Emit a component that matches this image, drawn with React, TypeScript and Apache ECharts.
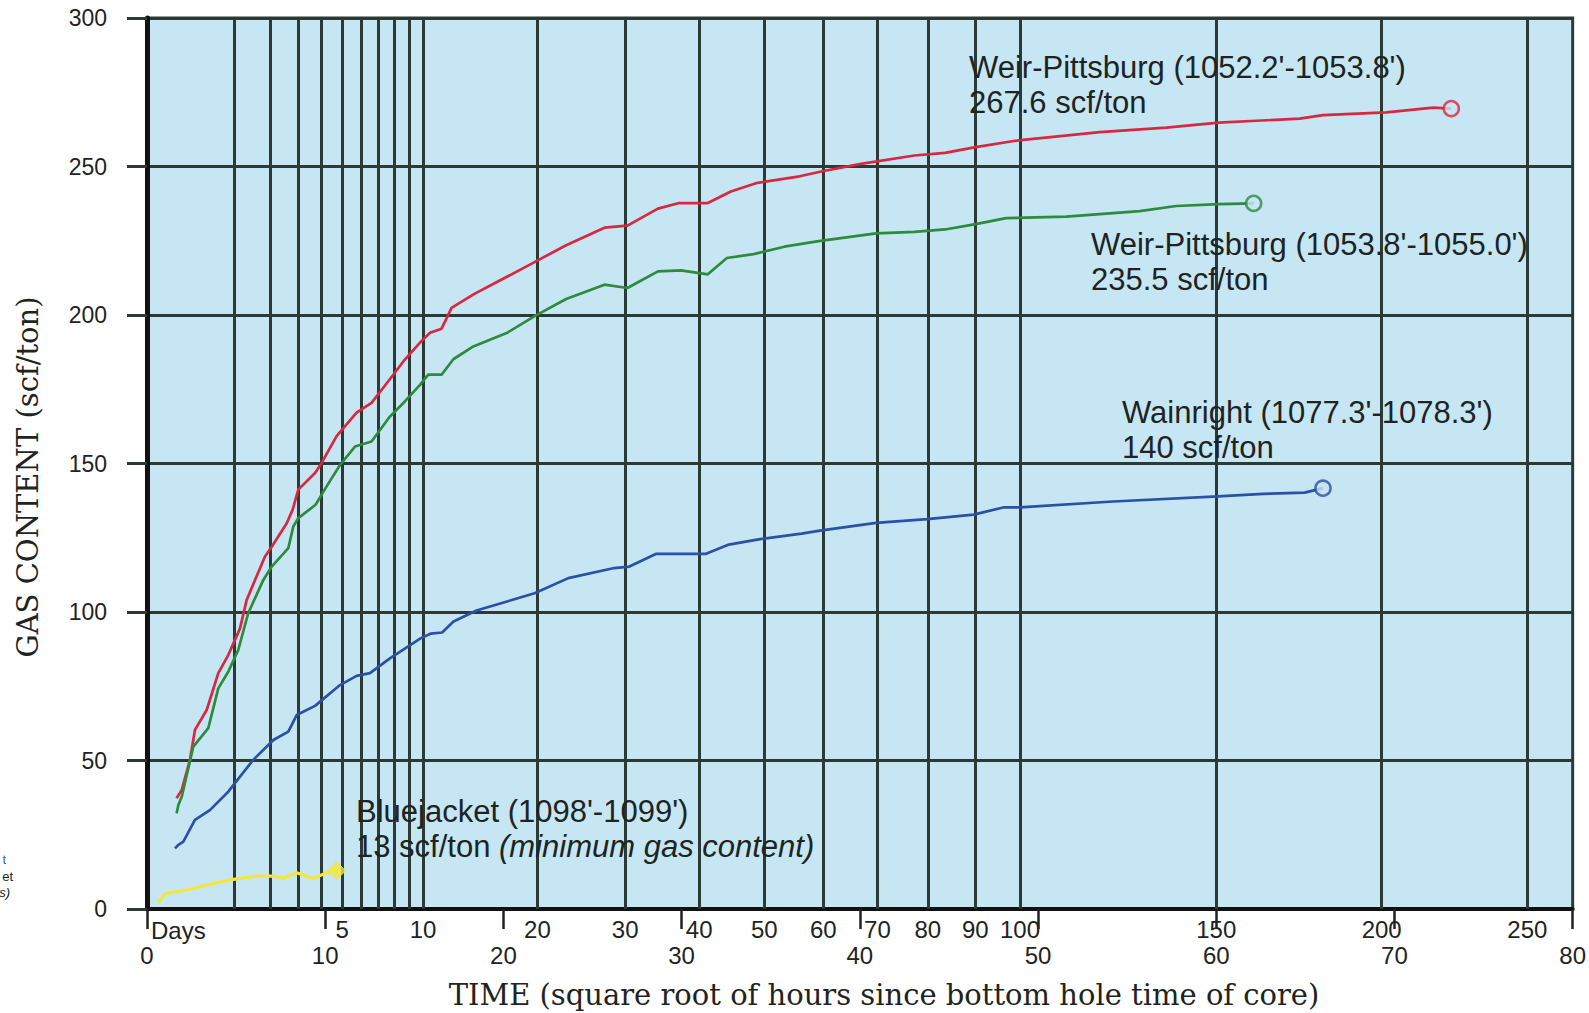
import React, { useEffect, useRef } from "react";
import * as echarts from "echarts";

// ---------- data ----------
// x = square root of hours since bottom hole time of core, y = gas content (scf/ton)
const weir1Data: number[][] = [
  [1.66, 37.3], [1.95, 40.1], [2.41, 50.2], [2.69, 60.3], [3.35, 67], [4.0, 79.4], [4.56, 85.5],
  [5.22, 94.5], [5.59, 104], [6.62, 118.7], [7.0, 122], [7.84, 129.9], [8.17, 134.4], [8.49, 141.2],
  [9.43, 146.8], [9.8, 150.2], [10.64, 159.2], [11.76, 167.1], [12.6, 170.4], [13.54, 177.7],
  [14.47, 185], [15.32, 190.7], [15.88, 194], [16.53, 195.4], [17.09, 202.4], [18.37, 207.1],
  [21.59, 217.3], [23.52, 223.5], [25.67, 229.4], [26.96, 230.1], [28.67, 235.8], [29.86, 237.7],
  [31.47, 237.7], [32.76, 241.6], [34.26, 244.5], [36.62, 246.7], [37.9, 248.4], [40.06, 250.9],
  [43.06, 253.7], [44.78, 254.6], [46.5, 256.5], [48.64, 258.6], [53.46, 261.6], [57.2, 263.1],
  [60.14, 264.8], [62.25, 265.4], [64.68, 266.1], [65.99, 267.3], [69.55, 268.2], [72.17, 269.8],
  [73.19, 269.5],
];

const weir2Data: number[][] = [
  [1.66, 32.2], [1.76, 35], [1.95, 37.8], [2.6, 54.7], [3.44, 60.9], [4.0, 74.3], [4.56, 79.9],
  [5.12, 87.2], [5.68, 99.6], [6.53, 110.8], [7.0, 115.3], [7.93, 121.5], [8.21, 128.8], [8.49, 131.6],
  [9.46, 136.1], [10.08, 142.3], [10.83, 149.5], [11.67, 155.7], [12.6, 157.4], [13.63, 165.8],
  [14.47, 170.9], [15.32, 176.5], [15.78, 179.9], [16.53, 179.9], [17.19, 185.1], [18.31, 189.4],
  [20.18, 193.9], [21.8, 199.8], [23.52, 205.4], [25.67, 210.2], [26.96, 209.1], [28.67, 214.7],
  [29.96, 215], [31.47, 213.7], [32.54, 219.2], [34.04, 220.5], [35.76, 223], [37.69, 224.9],
  [40.91, 227.5], [43.06, 228], [44.78, 228.8], [46.5, 230.6], [48.21, 232.6], [51.59, 233.1],
  [55.7, 235], [57.76, 236.7], [60.14, 237.3], [62.1, 237.6],
];

const wainrightData: number[][] = [
  [1.57, 20.4], [1.76, 21.6], [2.04, 22.7], [2.69, 30], [3.53, 33.3], [4.56, 39.5], [5.96, 50.2],
  [7.09, 56.9], [7.93, 59.7], [8.4, 65.3], [9.43, 68.4], [10.83, 75.4], [11.76, 78.5], [12.51, 79.4],
  [13.63, 84.4], [15.37, 91.2], [15.91, 92.7], [16.56, 93.1], [17.2, 96.8], [18.49, 100.5],
  [21.75, 106.3], [23.64, 111.4], [26.22, 114.8], [27.07, 115.3], [28.58, 119.6], [31.37, 119.6],
  [32.65, 122.7], [34.48, 124.6], [36.73, 126.4], [37.76, 127.4], [40.92, 130], [43.78, 131.3],
  [46.39, 132.8], [48.04, 135.2], [48.97, 135.2], [54.21, 137.2], [60.1, 138.9], [62.63, 139.8],
  [64.96, 140.2], [65.99, 141.7],
];

const bluejacketData: number[][] = [
  [0.63, 2.1], [0.91, 4.4], [1.1, 5.3], [2.22, 6.4], [3.35, 8.1], [4.66, 9.8], [6.15, 11.1],
  [7.09, 11.1], [7.65, 10.3], [8.4, 12.2], [9.33, 10.3], [9.99, 12], [10.64, 12.9],
];

// vertical grid lines drawn at elapsed days (x = sqrt(24 * days))
const dayGridLines = [1, 2, 3, 4, 5, 6, 7, 8, 9, 10, 20, 30, 40, 50, 60, 70, 80, 90, 100, 150, 200, 250];
const dayLabels = [5, 10, 20, 30, 40, 50, 60, 70, 80, 90, 100, 150, 200, 250];

const xMin = 0, xMax = 80, xStep = 10;
const yMin = 0, yMax = 300, yStep = 50;

const seriesNames = ["Weir-Pittsburg (1052.2'-1053.8')", "Weir-Pittsburg (1053.8'-1055.0')", "Wainright (1077.3'-1078.3')", "Bluejacket (1098'-1099')"];
const seriesTotals = ["267.6 scf/ton", "235.5 scf/ton", "140 scf/ton", "13 scf/ton"];
const bluejacketNote = "(minimum gas content)";

// ---------- styles ----------
const BG = "#c6e6f4";
const GRID = "#2c3a36";
const RED = "#d8283f";
const GREEN = "#2e8a3c";
const BLUE = "#2b50a6";
const YELLOW = "#f3e839";
const TXT = "#1d2422";
const SANS = "'Liberation Sans', Arial, Helvetica, sans-serif";
const SERIF = "'DejaVu Serif', 'Liberation Serif', serif";
const NOTE_SIZE = 31;
const NOTE_LH = 35;

const toX = (d: number) => Math.sqrt(24 * d);

export default function App() {
  const ref = useRef<HTMLDivElement>(null);

  useEffect(() => {
    if (!ref.current) return;
    const chart = echarts.init(ref.current, undefined, { renderer: "svg" });

    const lineSeries = (name: string, data: number[][], color: string, width = 2.7) => ({
      name,
      type: "line",
      xAxisIndex: 0,
      yAxisIndex: 0,
      data,
      showSymbol: false,
      symbol: "none",
      smooth: false,
      z: 4,
      lineStyle: { color, width },
    });

    const endMarker = (data: number[][], color: string, symbol: string, size: number, filled: boolean) => ({
      type: "scatter",
      xAxisIndex: 0,
      yAxisIndex: 0,
      data: [data[data.length - 1]],
      symbol,
      symbolSize: size,
      z: 6,
      itemStyle: filled
        ? { color, borderColor: color, borderWidth: 1 }
        : { color: BG, borderColor: color, borderWidth: 2.6 },
    });

    const annotate = (x: number, y: number, text: string) => ({
      type: "text",
      x,
      y,
      z: 10,
      style: {
        text,
        fill: TXT,
        fontFamily: SANS,
        fontSize: NOTE_SIZE,
        lineHeight: NOTE_LH,
        verticalAlign: "middle",
      },
    });

    chart.setOption({
      animation: false,
      backgroundColor: "#ffffff",
      grid: {
        left: 147,
        top: 18,
        width: 1426,
        height: 891,
        show: true,
        backgroundColor: BG,
        borderColor: GRID,
        borderWidth: 3,
        containLabel: false,
      },
      xAxis: [
        {
          type: "value",
          min: xMin,
          max: xMax,
          interval: xStep,
          position: "bottom",
          axisLine: { show: true, onZero: false, lineStyle: { color: "#111", width: 4 } },
          axisTick: { show: true, inside: false, length: 20, lineStyle: { color: "#222", width: 2.5 } },
          axisLabel: {
            show: true,
            margin: 34,
            fontSize: 24,
            color: TXT,
            fontFamily: SANS,
            showMinLabel: true,
            showMaxLabel: true,
          },
          splitLine: { show: false },
        },
        {
          type: "value",
          min: xMin,
          max: xMax,
          position: "bottom",
          offset: 0,
          axisLine: { show: false },
          axisTick: { show: false },
          splitLine: { show: false },
          axisLabel: {
            show: true,
            customValues: dayLabels.map(toX),
            formatter: (v: number) => String(Math.round((v * v) / 24)),
            margin: 8,
            fontSize: 24,
            color: TXT,
            fontFamily: SANS,
            hideOverlap: false,
          },
        },
      ],
      yAxis: {
        type: "value",
        min: yMin,
        max: yMax,
        interval: yStep,
        axisLine: { show: true, onZero: false, lineStyle: { color: "#111", width: 5 } },
        axisTick: { show: true, inside: false, length: 20, lineStyle: { color: GRID, width: 3 } },
        axisLabel: { margin: 40, fontSize: 23, color: TXT, fontFamily: SANS, showMinLabel: true, showMaxLabel: true },
        splitLine: { show: true, lineStyle: { color: GRID, width: 3 } },
      },
      series: [
        {
          ...lineSeries(seriesNames[3], bluejacketData, YELLOW, 3.2),
          markLine: {
            silent: true,
            symbol: ["none", "none"],
            z: 1,
            label: { show: false },
            lineStyle: { color: GRID, width: 3, type: "solid" },
            data: dayGridLines.map((d) => ({ xAxis: toX(d) })),
          },
        },
        lineSeries(seriesNames[0], weir1Data, RED),
        lineSeries(seriesNames[1], weir2Data, GREEN),
        lineSeries(seriesNames[2], wainrightData, BLUE),
        endMarker(weir1Data, RED, "circle", 15, false),
        endMarker(weir2Data, GREEN, "circle", 15, false),
        endMarker(wainrightData, BLUE, "circle", 15, false),
        endMarker(bluejacketData, YELLOW, "diamond", 18, true),
      ],
      graphic: [
        {
          type: "text",
          x: 28,
          y: 477,
          rotation: Math.PI / 2,
          style: {
            text: "GAS CONTENT (scf/ton)",
            fill: TXT,
            fontFamily: SERIF,
            fontSize: 29,
            align: "center",
            verticalAlign: "middle",
          },
        },
        {
          type: "text",
          x: 884,
          y: 995,
          style: {
            text: "TIME (square root of hours since bottom hole time of core)",
            fill: TXT,
            fontFamily: SERIF,
            fontSize: 29,
            align: "center",
            verticalAlign: "middle",
          },
        },
        {
          type: "text",
          x: 151,
          y: 930,
          style: { text: "Days", fill: TXT, fontFamily: SANS, fontSize: 24, align: "left", verticalAlign: "middle" },
        },
        annotate(969, 85, seriesNames[0] + "\n" + seriesTotals[0]),
        annotate(1091, 262, seriesNames[1] + "\n" + seriesTotals[1]),
        annotate(1122, 430, seriesNames[2] + "\n" + seriesTotals[2]),
        {
          type: "text",
          x: 356,
          y: 829,
          z: 10,
          style: {
            text: "{n|" + seriesNames[3] + "}\n{n|" + seriesTotals[3] + " }{i|" + bluejacketNote + "}",
            verticalAlign: "middle",
            rich: {
              n: { fontFamily: SANS, fontSize: NOTE_SIZE, lineHeight: NOTE_LH, fill: TXT, color: TXT },
              i: { fontFamily: SANS, fontSize: NOTE_SIZE, lineHeight: NOTE_LH, fontStyle: "italic", fill: TXT, color: TXT },
            },
          },
        },
        // clipped fragments of a neighbouring legend at the far left
        { type: "text", x: 6, y: 859, style: { text: "t", fill: "#3b64c9", fontFamily: SANS, fontSize: 13, align: "right", verticalAlign: "middle" } },
        { type: "text", x: 13, y: 876, style: { text: "et", fill: TXT, fontFamily: SANS, fontSize: 13, align: "right", verticalAlign: "middle" } },
        { type: "text", x: 10, y: 892, style: { text: "s)", fill: TXT, fontFamily: SANS, fontSize: 13, fontStyle: "italic", align: "right", verticalAlign: "middle" } },
      ],
    });

    return () => chart.dispose();
  }, []);

  return (
    <div
      ref={ref}
      style={{ position: "fixed", left: 0, top: 0, width: 1589, height: 1013, background: "#fff" }}
    />
  );
}
